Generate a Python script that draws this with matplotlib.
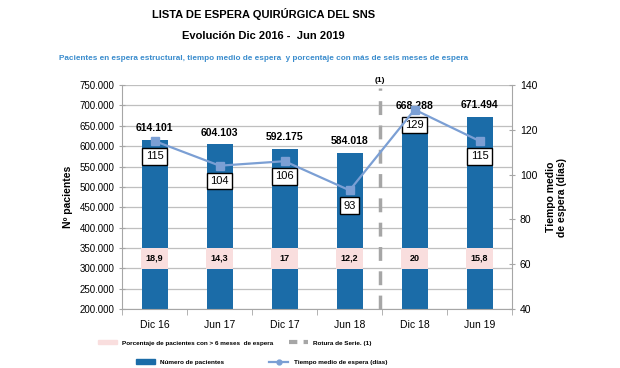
import matplotlib.pyplot as plt
import numpy as np
from matplotlib.lines import Line2D
from matplotlib.patches import Patch

plt.rcParams['font.family'] = ['Liberation Sans', 'DejaVu Sans']

cats = ["Dic 16", "Jun 17", "Dic 17", "Jun 18", "Dic 18", "Jun 19"]
pacientes = [614101, 604103, 592175, 584018, 668288, 671494]
tiempo = [115, 104, 106, 93, 129, 115]
porcentaje = [18.9, 14.3, 17, 12.2, 20, 15.8]

blue = "#1b6ca8"
lblue = "#7b9fd4"
pink = "#f9dede"
grey = "#a6a6a6"

fig = plt.figure(figsize=(6.2, 3.68), dpi=100)
ax = fig.add_axes([0.197, 0.160, 0.629, 0.609])
x = np.arange(len(cats))

ax.set_ylim(200000, 750000)
ax.set_xlim(-0.5, len(cats) - 0.5)
ax.set_yticks(np.arange(200000, 750001, 50000))
ax.set_yticklabels([f"{v:,.0f}".replace(",", ".") for v in ax.get_yticks()], fontsize=7)
ax.yaxis.grid(True, color="#bfbfbf", lw=0.9)
ax.set_axisbelow(True)

ax.bar(x, pacientes, width=0.4, color=blue, zorder=2)
# band with percentage > 6 months
ax.bar(x, [52000] * len(x), bottom=298000, width=0.42, color=pink, zorder=3)
for xi, p in zip(x, porcentaje):
    ax.text(xi, 325000, f"{p:g}".replace(".", ","), ha="center", va="center",
            fontsize=6.5, fontweight="bold", zorder=4)
for xi, v in zip(x, pacientes):
    ax.annotate(f"{v:,}".replace(",", "."), (xi, v), xytext=(0, 5), textcoords="offset points",
                ha="center", va="bottom", fontsize=7.5, fontweight="bold")

ax.set_xticks(x)
ax.set_xticklabels(cats, fontsize=7.5)
ax.set_xticks(np.arange(-0.5, len(cats)), minor=True)
ax.tick_params(axis="x", which="major", length=0, pad=8)
ax.tick_params(axis="x", which="minor", length=4, direction="out", color=grey)
ax.tick_params(axis="y", length=4, direction="inout", color=grey)
for s in ["left", "bottom", "right"]:
    ax.spines[s].set_color(grey)
ax.spines["top"].set_visible(False)
ax.set_ylabel("Nº pacientes", fontsize=7.5, fontweight="bold", labelpad=5)

# series break
ax.axvline(3.47, ymax=0.985, color=grey, lw=2.5, dashes=(4, 3), zorder=3)
ax.text(3.47, 752000, "(1)", ha="center", va="bottom", fontsize=6, fontweight="bold")

ax2 = ax.twinx()
ax2.set_ylim(40, 140)
ax2.set_yticks(np.arange(40, 141, 20))
ax2.tick_params(axis="y", labelsize=7.5, length=4, direction="inout", color=grey)
for s in ["left", "bottom", "right", "top"]:
    ax2.spines[s].set_visible(False)
ax2.plot(x, tiempo, color=lblue, lw=1.6, marker="s", ms=5.5, zorder=5)
for xi, t in zip(x, tiempo):
    ax2.annotate(str(t), (xi, t), xytext=(0, -11), textcoords="offset points",
                 ha="center", va="center", fontsize=8,
                 bbox=dict(boxstyle="square,pad=0.3", fc="white", ec="black", lw=1))
ax2.set_ylabel("Tiempo medio\nde espera (días)", fontsize=7.5, fontweight="bold", labelpad=6)

fig.text(0.425, 0.962, "LISTA DE ESPERA QUIRÚRGICA DEL SNS", ha="center", va="center",
         fontsize=8, fontweight="bold")
fig.text(0.425, 0.902, "Evolución Dic 2016 -  Jun 2019", ha="center", va="center",
         fontsize=8, fontweight="bold")
fig.text(0.425, 0.842, "Pacientes en espera estructural, tiempo medio de espera  y porcentaje con más de seis meses de espera",
         ha="center", va="center", fontsize=5.9, fontweight="bold", color="#3a8ccd")

h1 = [Patch(color=pink), Line2D([], [], color=grey, lw=3, dashes=(2, 1.5))]
l1 = ["Porcentaje de pacientes con > 6 meses  de espera", "Rotura de Serie. (1)"]
h2 = [Patch(color=blue), Line2D([], [], color=lblue, lw=1.6, marker="o", ms=3.5)]
l2 = ["Número de pacientes", "Tiempo medio de espera (días)"]
leg_kw = dict(ncol=2, frameon=False, prop=dict(size=4.6, weight="bold"),
              handlelength=3, handleheight=0.6)
fig.legend(h1, l1, loc="center", bbox_to_anchor=(0.379, 0.068), columnspacing=2.4, **leg_kw)
fig.legend(h2, l2, loc="center", bbox_to_anchor=(0.422, 0.016), columnspacing=7, **leg_kw)

fig.savefig("out.png", dpi=100)
